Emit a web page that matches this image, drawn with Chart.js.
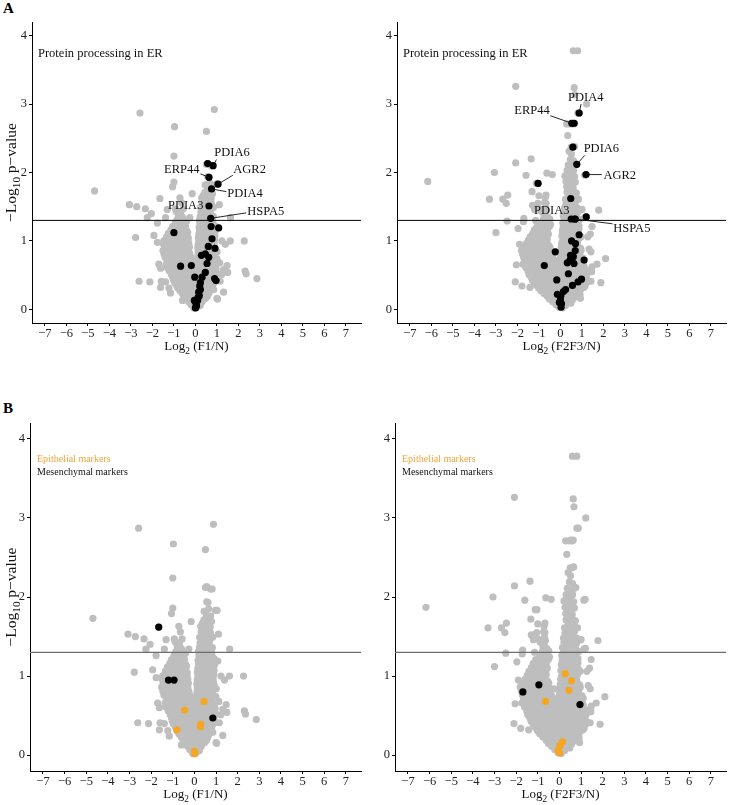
<!DOCTYPE html>
<html><head><meta charset="utf-8">
<script src="https://cdn.jsdelivr.net/npm/chart.js@4"></script>
<style>
html,body{margin:0;padding:0;background:#fff;}
#wrap{position:relative;width:730px;height:805px;overflow:hidden;background:#fff;}
.p{position:absolute;}
.lab{position:absolute;font:bold 15px "Liberation Serif",serif;color:#000;line-height:15px;}
</style></head><body>
<div id="wrap">
 <div class="lab" style="left:3px;top:1px">A</div>
 <div class="lab" style="left:3px;top:401px">B</div>
 <div class="p" style="left:0;top:0;width:365px;height:355px"><canvas id="cA1"></canvas></div>
 <div class="p" style="left:365px;top:0;width:365px;height:355px"><canvas id="cA2"></canvas></div>
 <div class="p" style="left:0;top:395px;width:365px;height:410px"><canvas id="cB1"></canvas></div>
 <div class="p" style="left:365px;top:395px;width:365px;height:410px"><canvas id="cB2"></canvas></div>
</div>
<script>
// ---------------- DATA ----------------
const xTicks = [-7,-6,-5,-4,-3,-2,-1,0,1,2,3,4,5,6,7];
const yTicks = [0,1,2,3,4];
const threshold = 1.3;

// all other proteins, F1 vs N : scattered points
const grayF1Outer = [[-2.58,2.87],[0.88,2.92],[-0.97,2.67],[0.51,2.60],[-1.0,2.24],[0.51,2.12],[0.74,2.10],[0.57,1.94],[-1.0,1.86],[-1.06,1.79],[0.45,1.82],[0.66,1.85],[0.97,1.83],[-4.69,1.73],[-0.15,1.69],[-0.72,1.63],[-3.07,1.53],[-2.73,1.50],[-2.33,1.47],[-2.05,1.40],[-2.24,1.34],[-1.39,1.34],[-1.77,1.26],[-1.31,1.46],[-0.93,1.47],[-0.65,1.56],[-0.57,1.47],[-0.69,1.42],[-0.26,1.34],[1.11,1.53],[1.63,1.34],[0.38,1.67],[0.79,1.69],[-2.78,1.05],[-1.93,1.08],[-1.77,0.98],[-1.47,1.0],[1.23,1.0],[1.62,1.0],[1.39,0.95],[2.27,1.0],[1.13,0.68],[1.47,0.64],[1.31,0.58],[1.5,0.54],[2.31,0.56],[2.36,0.52],[2.86,0.45],[-2.62,0.41],[-2.12,0.40],[-1.59,0.41],[-1.39,0.40],[-1.62,0.32],[-1.23,0.31],[-1.16,0.24],[0.85,0.29],[1.31,0.25],[1.0,0.16],[-1.7,0.66],[-1.62,0.60],[1.15,0.41],[1.22,0.51],[1.03,0.15],[-0.6,0.13]];
// all other proteins, F1 vs N : dense cloud
const grayF1Cloud = [
[-0.08,0.02],[0.06,0.03],[0.16,0.05],
[-0.21,0.07],[-0.04,0.06],[0.11,0.08],[0.23,0.06],
[-0.31,0.11],[-0.17,0.10],[0.01,0.12],[0.14,0.10],[0.31,0.11],
[-0.42,0.15],[-0.26,0.14],[-0.11,0.16],[0.06,0.13],[0.19,0.15],[0.36,0.14],[0.47,0.16],
[-0.52,0.19],[-0.36,0.18],[-0.19,0.2],[-0.04,0.18],[0.11,0.19],[0.27,0.2],[0.41,0.18],[0.56,0.19],
[-0.61,0.23],[-0.47,0.22],[-0.29,0.24],[-0.14,0.21],[0.02,0.23],[0.16,0.22],[0.31,0.24],[0.46,0.21],[0.62,0.23],
[-0.72,0.27],[-0.56,0.26],[-0.41,0.28],[-0.24,0.25],[-0.09,0.27],[0.06,0.26],[0.21,0.28],[0.36,0.25],[0.52,0.27],[0.66,0.26],
[-0.81,0.31],[-0.66,0.3],[-0.49,0.32],[-0.34,0.29],[-0.19,0.31],[-0.04,0.3],[0.11,0.32],[0.26,0.29],[0.41,0.31],[0.56,0.3],[0.71,0.32],
[-0.87,0.35],[-0.71,0.34],[-0.54,0.36],[-0.39,0.33],[-0.24,0.35],[-0.09,0.34],[0.06,0.36],[0.21,0.33],[0.36,0.35],[0.51,0.34],[0.66,0.36],[0.79,0.34],
[-0.96,0.39],[-0.79,0.38],[-0.64,0.4],[-0.51,0.37],[-0.34,0.39],[-0.21,0.38],[-0.06,0.4],[0.09,0.37],[0.24,0.39],[0.39,0.38],[0.54,0.4],[0.69,0.37],[0.86,0.39],
[-1.02,0.43],[-0.86,0.42],[-0.69,0.44],[-0.56,0.41],[-0.39,0.43],[-0.26,0.42],[-0.11,0.44],[0.04,0.41],[0.21,0.43],[0.34,0.42],[0.49,0.44],[0.66,0.41],[0.81,0.43],[0.94,0.42],
[-1.06,0.47],[-0.91,0.46],[-0.74,0.48],[-0.61,0.45],[-0.44,0.47],[-0.31,0.46],[-0.14,0.48],[0.01,0.45],[0.16,0.47],[0.29,0.46],[0.46,0.48],[0.59,0.45],[0.76,0.47],[0.89,0.46],
[-1.12,0.51],[-0.96,0.5],[-0.79,0.52],[-0.66,0.49],[-0.49,0.51],[-0.36,0.5],[-0.19,0.52],[-0.06,0.49],[0.11,0.51],[0.24,0.5],[0.41,0.52],[0.54,0.49],[0.71,0.51],[0.84,0.5],[1.01,0.52],
[-1.21,0.56],[-1.04,0.55],[-0.91,0.57],[-0.74,0.54],[-0.61,0.56],[-0.44,0.55],[-0.31,0.57],[-0.14,0.54],[0.01,0.56],[0.16,0.55],[0.29,0.57],[0.46,0.54],[0.61,0.56],[0.74,0.55],[0.91,0.57],
[-1.31,0.61],[-1.14,0.6],[-1.01,0.62],[-0.84,0.59],[-0.71,0.61],[-0.54,0.6],[-0.41,0.62],[-0.24,0.59],[-0.11,0.61],[0.06,0.6],[0.19,0.62],[0.36,0.59],[0.49,0.61],[0.66,0.6],[0.79,0.62],[0.96,0.59],
[-1.36,0.66],[-1.19,0.65],[-1.06,0.67],[-0.89,0.64],[-0.76,0.66],[-0.59,0.65],[-0.46,0.67],[-0.29,0.64],[-0.16,0.66],[0.06,0.65],[0.21,0.67],[0.34,0.64],[0.51,0.66],[0.64,0.65],[0.81,0.67],[0.94,0.64],
[-1.29,0.71],[-1.16,0.7],[-0.99,0.72],[-0.86,0.69],[-0.69,0.71],[-0.56,0.7],[-0.39,0.72],[-0.26,0.69],[-0.11,0.71],[0.09,0.7],[0.21,0.72],[0.38,0.69],[0.51,0.71],[0.68,0.7],[0.81,0.72],
[-1.41,0.76],[-1.24,0.75],[-1.11,0.77],[-0.94,0.74],[-0.81,0.76],[-0.64,0.75],[-0.51,0.77],[-0.34,0.74],[-0.21,0.76],[0.11,0.75],[0.24,0.77],[0.41,0.74],[0.54,0.76],[0.71,0.75],[0.84,0.77],[0.99,0.74],
[-1.46,0.81],[-1.29,0.8],[-1.16,0.82],[-0.99,0.79],[-0.86,0.81],[-0.69,0.8],[-0.56,0.82],[-0.39,0.79],[-0.26,0.81],[0.12,0.8],[0.26,0.82],[0.43,0.79],[0.56,0.81],[0.73,0.8],[0.86,0.82],
[-1.51,0.86],[-1.34,0.85],[-1.21,0.87],[-1.04,0.84],[-0.91,0.86],[-0.74,0.85],[-0.61,0.87],[-0.44,0.84],[-0.31,0.86],[0.13,0.85],[0.26,0.87],[0.43,0.84],[0.56,0.86],[0.73,0.85],[0.86,0.87],[1.01,0.84],
[-1.44,0.91],[-1.31,0.9],[-1.14,0.92],[-1.01,0.89],[-0.84,0.91],[-0.71,0.9],[-0.54,0.92],[-0.41,0.89],[-0.28,0.91],[0.11,0.9],[0.28,0.92],[0.41,0.89],[0.58,0.91],[0.71,0.9],[0.88,0.92],
[-1.49,0.96],[-1.36,0.95],[-1.19,0.97],[-1.06,0.94],[-0.89,0.96],[-0.76,0.95],[-0.59,0.97],[-0.46,0.94],[-0.31,0.96],[0.13,0.95],[0.26,0.97],[0.43,0.94],[0.56,0.96],[0.73,0.95],[0.86,0.97],
[-1.41,1.01],[-1.24,1.0],[-1.11,1.02],[-0.94,0.99],[-0.81,1.01],[-0.64,1.0],[-0.51,1.02],[-0.34,0.99],[0.16,1.0],[0.29,1.02],[0.46,0.99],[0.59,1.01],[0.76,1.0],[0.89,1.02],
[-1.34,1.06],[-1.21,1.05],[-1.04,1.07],[-0.91,1.04],[-0.74,1.06],[-0.61,1.05],[-0.44,1.07],[-0.33,1.04],[0.14,1.05],[0.31,1.07],[0.44,1.04],[0.61,1.06],[0.74,1.05],[0.91,1.07],
[-1.26,1.11],[-1.09,1.1],[-0.96,1.12],[-0.79,1.09],[-0.66,1.11],[-0.49,1.1],[-0.36,1.12],[0.16,1.1],[0.29,1.12],[0.46,1.09],[0.59,1.11],[0.76,1.1],[0.89,1.12],
[-1.14,1.16],[-1.01,1.15],[-0.84,1.17],[-0.71,1.14],[-0.54,1.16],[-0.41,1.15],[0.19,1.16],[0.32,1.14],[0.49,1.17],[0.62,1.15],[0.79,1.16],[0.92,1.14],
[-1.06,1.21],[-0.89,1.2],[-0.76,1.22],[-0.59,1.19],[-0.46,1.21],[0.17,1.2],[0.34,1.22],[0.47,1.19],[0.64,1.21],[0.77,1.2],[0.91,1.22],
[-0.94,1.26],[-0.81,1.25],[-0.64,1.27],[-0.51,1.24],[0.21,1.26],[0.34,1.25],[0.51,1.27],[0.64,1.24],[0.81,1.26],
[-0.86,1.31],[-0.69,1.3],[-0.56,1.32],[-0.41,1.29],[0.19,1.31],[0.36,1.3],[0.49,1.32],[0.66,1.29],[0.79,1.31],
[-0.79,1.37],[-0.61,1.35],[0.23,1.36],[0.36,1.38],[0.53,1.35],[0.66,1.37],[0.83,1.36],
[-0.89,1.43],[0.26,1.42],[0.39,1.44],[0.56,1.41],[0.69,1.43],
[0.24,1.49],[0.41,1.48],[0.54,1.5],[0.71,1.47],[0.84,1.49],
[0.31,1.56],[0.44,1.54],[0.61,1.57],[0.74,1.55],
[0.29,1.63],[0.46,1.61],[0.59,1.64],[0.73,1.62],
[0.44,1.71],[0.61,1.69],[0.56,1.77]];

// all other proteins, F2F3 vs N : scattered points
const grayF2F3Outer = [[0.6,3.78],[0.8,3.78],[-2.08,3.26],[0.64,3.24],[0.67,3.14],[1.22,3.0],[0.81,2.87],[0.29,2.71],[0.47,2.71],[0.6,2.71],[0.34,2.54],[0.5,2.37],[0.66,2.38],[0.4,2.31],[-2.08,2.14],[-1.36,2.20],[-1.6,1.96],[-3.07,2.0],[-0.63,1.99],[-0.38,1.97],[-6.17,1.87],[-1.12,1.84],[1.13,1.96],[-1.32,1.72],[-3.3,1.61],[-2.68,1.61],[-2.52,1.55],[-2.45,1.67],[-2.48,1.29],[-3.0,1.12],[1.78,1.45],[1.47,1.21],[-1.0,1.66],[-1.05,1.55],[-1.3,1.52],[-1.0,1.47],[-1.2,1.46],[-0.67,1.67],[-0.67,1.55],[-0.65,1.45],[-1.7,1.33],[-1.72,1.28],[-1.15,1.30],[-1.97,1.18],[-1.9,0.95],[-2.05,0.65],[-2.1,0.40],[-1.79,0.34],[-1.42,0.32],[1.33,0.88],[1.42,0.84],[1.7,0.66],[2.1,0.74],[1.88,0.39],[1.47,0.62],[1.45,0.55],[1.42,0.41],[1.39,1.10],[1.27,1.06],[1.0,1.46],[1.13,1.34],[0.93,0.16],[0.78,0.22],[0.48,0.09]];
// all other proteins, F2F3 vs N : dense cloud
const grayF2F3Cloud = [
[-0.06,0.03],[0.09,0.02],
[-0.21,0.07],[-0.06,0.06],[0.11,0.08],[0.24,0.06],
[-0.36,0.11],[-0.19,0.1],[-0.04,0.12],[0.11,0.1],[0.26,0.11],[0.41,0.1],
[-0.51,0.15],[-0.34,0.14],[-0.21,0.16],[-0.04,0.13],[0.09,0.15],[0.26,0.14],[0.39,0.16],[0.56,0.14],
[-0.61,0.19],[-0.44,0.18],[-0.31,0.2],[-0.14,0.17],[0.01,0.19],[0.16,0.18],[0.29,0.2],[0.46,0.17],[0.59,0.19],[0.76,0.18],
[-0.76,0.23],[-0.59,0.22],[-0.46,0.24],[-0.29,0.21],[-0.16,0.23],[0.01,0.22],[0.14,0.24],[0.31,0.21],[0.44,0.23],[0.61,0.22],[0.74,0.24],[0.91,0.22],
[-0.91,0.27],[-0.74,0.26],[-0.61,0.28],[-0.44,0.25],[-0.31,0.27],[-0.14,0.26],[-0.01,0.28],[0.16,0.25],[0.29,0.27],[0.46,0.26],[0.59,0.28],[0.76,0.25],[0.89,0.27],
[-1.01,0.31],[-0.84,0.3],[-0.71,0.32],[-0.54,0.29],[-0.41,0.31],[-0.24,0.3],[-0.11,0.32],[0.06,0.29],[0.19,0.31],[0.36,0.3],[0.49,0.32],[0.66,0.29],[0.79,0.31],[0.96,0.3],[1.09,0.32],
[-1.11,0.35],[-0.94,0.34],[-0.81,0.36],[-0.64,0.33],[-0.51,0.35],[-0.34,0.34],[-0.21,0.36],[-0.04,0.33],[0.11,0.35],[0.24,0.34],[0.41,0.36],[0.54,0.33],[0.71,0.35],[0.84,0.34],[1.01,0.36],[1.14,0.34],
[-1.21,0.39],[-1.04,0.38],[-0.91,0.4],[-0.74,0.37],[-0.61,0.39],[-0.44,0.38],[-0.31,0.4],[-0.14,0.37],[0.01,0.39],[0.14,0.38],[0.31,0.4],[0.44,0.37],[0.61,0.39],[0.74,0.38],[0.91,0.4],[1.04,0.37],[1.21,0.39],
[-1.31,0.43],[-1.14,0.42],[-1.01,0.44],[-0.84,0.41],[-0.71,0.43],[-0.54,0.42],[-0.41,0.44],[-0.24,0.41],[-0.11,0.43],[0.06,0.42],[0.19,0.44],[0.36,0.41],[0.49,0.43],[0.66,0.42],[0.79,0.44],[0.96,0.41],[1.09,0.43],[1.26,0.42],
[-1.36,0.47],[-1.19,0.46],[-1.06,0.48],[-0.89,0.45],[-0.76,0.47],[-0.59,0.46],[-0.46,0.48],[-0.29,0.45],[-0.16,0.47],[0.01,0.46],[0.14,0.48],[0.31,0.45],[0.44,0.47],[0.61,0.46],[0.74,0.48],[0.91,0.45],[1.04,0.47],[1.19,0.46],
[-1.46,0.51],[-1.29,0.5],[-1.16,0.52],[-0.99,0.49],[-0.86,0.51],[-0.69,0.5],[-0.56,0.52],[-0.39,0.49],[-0.26,0.51],[-0.09,0.5],[0.04,0.52],[0.21,0.49],[0.34,0.51],[0.51,0.5],[0.64,0.52],[0.81,0.49],[0.94,0.51],[1.11,0.5],[1.24,0.52],
[-1.51,0.56],[-1.34,0.55],[-1.21,0.57],[-1.04,0.54],[-0.91,0.56],[-0.74,0.55],[-0.61,0.57],[-0.44,0.54],[-0.31,0.56],[-0.14,0.55],[0.01,0.57],[0.14,0.54],[0.31,0.56],[0.44,0.55],[0.61,0.57],[0.74,0.54],[0.91,0.56],[1.04,0.55],[1.21,0.57],
[-1.61,0.61],[-1.44,0.6],[-1.31,0.62],[-1.14,0.59],[-1.01,0.61],[-0.84,0.6],[-0.71,0.62],[-0.54,0.59],[-0.41,0.61],[-0.24,0.6],[-0.11,0.62],[0.06,0.59],[0.19,0.61],[0.36,0.6],[0.49,0.62],[0.66,0.59],[0.79,0.61],[0.96,0.6],[1.09,0.62],
[-1.74,0.66],[-1.61,0.65],[-1.44,0.67],[-1.31,0.64],[-1.14,0.66],[-1.01,0.65],[-0.84,0.67],[-0.71,0.64],[-0.54,0.66],[-0.41,0.65],[-0.24,0.67],[-0.11,0.64],[0.06,0.66],[0.19,0.65],[0.36,0.67],[0.49,0.64],[0.66,0.66],[0.79,0.65],[0.96,0.67],[1.09,0.64],
[-1.66,0.71],[-1.49,0.7],[-1.36,0.72],[-1.19,0.69],[-1.06,0.71],[-0.89,0.7],[-0.76,0.72],[-0.59,0.69],[-0.46,0.71],[-0.31,0.7],[-0.09,0.72],[0.06,0.69],[0.21,0.71],[0.34,0.7],[0.51,0.72],[0.64,0.69],[0.81,0.71],[0.94,0.7],
[-1.71,0.76],[-1.54,0.75],[-1.41,0.77],[-1.24,0.74],[-1.11,0.76],[-0.94,0.75],[-0.81,0.77],[-0.64,0.74],[-0.51,0.76],[-0.36,0.75],[0.01,0.77],[0.14,0.74],[0.31,0.76],[0.44,0.75],[0.61,0.77],[0.74,0.74],[0.91,0.76],[1.04,0.75],
[-1.76,0.81],[-1.59,0.8],[-1.46,0.82],[-1.29,0.79],[-1.16,0.81],[-0.99,0.8],[-0.86,0.82],[-0.69,0.79],[-0.56,0.81],[-0.41,0.8],[0.01,0.82],[0.16,0.79],[0.29,0.81],[0.46,0.8],[0.59,0.82],[0.76,0.79],[0.89,0.81],
[-1.81,0.86],[-1.64,0.85],[-1.51,0.87],[-1.34,0.84],[-1.21,0.86],[-1.04,0.85],[-0.91,0.87],[-0.74,0.84],[-0.61,0.86],[-0.46,0.85],[0.06,0.87],[0.19,0.84],[0.36,0.86],[0.49,0.85],[0.66,0.87],[0.79,0.84],[0.96,0.86],
[-1.69,0.91],[-1.56,0.9],[-1.39,0.92],[-1.26,0.89],[-1.09,0.91],[-0.96,0.9],[-0.79,0.92],[-0.66,0.89],[-0.49,0.91],[0.04,0.9],[0.21,0.92],[0.34,0.89],[0.51,0.91],[0.64,0.9],[0.81,0.92],[0.94,0.89],
[-1.59,0.96],[-1.46,0.95],[-1.29,0.97],[-1.16,0.94],[-0.99,0.96],[-0.86,0.95],[-0.69,0.97],[-0.56,0.94],[0.06,0.96],[0.19,0.95],[0.36,0.97],[0.49,0.94],[0.66,0.96],[0.79,0.95],
[-1.49,1.01],[-1.36,1.0],[-1.19,1.02],[-1.06,0.99],[-0.89,1.01],[-0.76,1.0],[-0.61,1.02],[0.09,0.99],[0.22,1.01],[0.39,1.0],[0.52,1.02],[0.69,0.99],[0.82,1.01],
[-1.41,1.06],[-1.24,1.05],[-1.11,1.07],[-0.94,1.04],[-0.81,1.06],[-0.64,1.05],[0.07,1.07],[0.24,1.04],[0.37,1.06],[0.54,1.05],[0.67,1.07],[0.84,1.04],[0.96,1.06],
[-1.29,1.11],[-1.16,1.1],[-0.99,1.12],[-0.86,1.09],[-0.69,1.11],[-0.56,1.1],[0.11,1.12],[0.24,1.09],[0.41,1.11],[0.54,1.1],[0.71,1.12],[0.84,1.09],
[-1.21,1.16],[-1.04,1.15],[-0.91,1.17],[-0.74,1.14],[-0.61,1.16],[0.09,1.15],[0.26,1.17],[0.39,1.14],[0.56,1.16],[0.69,1.15],[0.86,1.17],
[-1.09,1.21],[-0.96,1.2],[-0.79,1.22],[-0.66,1.19],[-0.51,1.21],[0.13,1.2],[0.26,1.22],[0.43,1.19],[0.56,1.21],[0.73,1.2],[0.86,1.22],
[-0.91,1.26],[-0.74,1.25],[-0.61,1.27],[-0.46,1.24],[0.11,1.26],[0.28,1.25],[0.41,1.27],[0.58,1.24],[0.71,1.26],
[-0.79,1.31],[-0.66,1.3],[-0.49,1.32],[0.16,1.29],[0.29,1.31],[0.46,1.3],[0.59,1.32],[0.76,1.29],[0.89,1.31],
[-0.76,1.37],[-0.59,1.35],[0.14,1.36],[0.31,1.38],[0.44,1.35],[0.61,1.37],[0.74,1.36],
[-0.89,1.43],[-0.71,1.41],[0.21,1.42],[0.34,1.44],[0.51,1.41],[0.64,1.43],[0.81,1.42],
[-0.69,1.49],[0.19,1.48],[0.36,1.5],[0.49,1.47],[0.66,1.49],[0.79,1.48],
[-0.73,1.56],[0.26,1.54],[0.39,1.57],[0.56,1.55],[0.69,1.56],
[-0.71,1.63],[0.24,1.61],[0.41,1.64],[0.54,1.62],[0.71,1.63],[0.84,1.61],
[0.31,1.71],[0.44,1.69],[0.61,1.72],[0.74,1.7],
[0.29,1.79],[0.46,1.77],[0.59,1.78],
[0.26,1.87],[0.39,1.85],[0.56,1.87],[0.69,1.86],
[0.21,1.95],[0.36,1.93],[0.49,1.95],[0.66,1.94],
[0.31,2.03],[0.44,2.01],[0.61,2.03],
[0.36,2.11],[0.54,2.09],[0.69,2.11],
[0.46,2.19],[0.61,2.17],[0.51,2.27]];

// Protein processing in ER (KEGG) : labelled genes
const erGenes    = ['PDIA6','ERP44','AGR2','PDIA4','PDIA3','HSPA5'];
const erGeneF1   = [[0.82,2.10],[0.63,1.93],[1.05,1.83],[0.75,1.76],[0.63,1.51],[0.71,1.33]];
const erGeneF2F3 = [[0.76,2.12],[0.53,2.72],[1.19,1.97],[0.87,2.87],[0.50,1.32],[0.69,1.32]];
// Protein processing in ER : other member proteins
const erOtherF1 = [[0.57,2.13],[0.73,1.21],[1.08,1.19],[-1.0,1.12],[0.77,1.03],[0.6,0.92],[0.91,0.89],[0.46,0.81],[0.28,0.79],[0.62,0.76],[-0.69,0.63],[-0.19,0.64],[0.54,0.67],[0.46,0.54],[-0.03,0.47],[0.89,0.45],[0.96,0.42],[0.31,0.47],[0.23,0.39],[0.2,0.34],[0.23,0.29],[0.15,0.25],[0.18,0.2],[0.12,0.17],[0.1,0.13],[-0.05,0.13],[0.02,0.09],[0.05,0.05],[0.0,0.02]];
const erOtherF2F3 = [[0.64,2.72],[0.58,2.37],[-1.04,1.84],[0.48,1.62],[0.67,1.32],[1.2,1.35],[0.87,1.09],[0.52,1.0],[0.7,0.96],[-0.24,0.84],[0.69,0.86],[0.47,0.79],[0.6,0.77],[0.45,0.72],[0.32,0.68],[0.63,0.67],[1.1,0.72],[-0.75,0.64],[0.37,0.52],[-0.17,0.43],[0.56,0.35],[0.82,0.40],[0.98,0.44],[0.24,0.29],[0.14,0.26],[-0.14,0.22],[0.02,0.20],[0.0,0.14],[-0.05,0.10],[0.05,0.08],[0.03,0.03]];

// EMT markers
const epiF1   = [[0.44,0.68],[-0.45,0.57],[-0.81,0.32],[0.29,0.39],[0.28,0.36],[0.0,0.05],[0.02,0.02]];
const mesF1   = [[-1.65,1.62],[-1.2,0.95],[-0.94,0.95],[0.85,0.47]];
const epiF2F3 = [[0.27,1.03],[0.56,0.94],[0.44,0.82],[-0.64,0.68],[0.14,0.17],[0.02,0.12],[-0.05,0.06],[0.0,0.03]];
const mesF2F3 = [[-1.69,0.80],[-0.95,0.89],[0.95,0.64]];

// ---------------- LAYOUT / STYLE ----------------
// label placement for gene names: [labelX, labelY, align, lineEndX, lineEndY] in data units
const geneLayoutF1 = {
  PDIA6:[0.88,2.29,'left',0.98,2.19], ERP44:[0.19,2.04,'right',0.23,1.98], AGR2:[1.76,2.04,'left',1.74,1.96],
  PDIA4:[1.48,1.69,'left',1.44,1.72], PDIA3:[0.37,1.52,'right',null,null], HSPA5:[2.41,1.43,'left',2.36,1.41]};
const geneLayoutF2F3 = {
  PDIA6:[1.08,2.35,'left',1.13,2.25], ERP44:[-0.5,2.90,'right',-0.47,2.83], AGR2:[2.0,1.96,'left',1.92,1.97],
  PDIA4:[1.18,3.09,'center',0.96,3.0], PDIA3:[-0.4,1.44,'center',null,null], HSPA5:[2.46,1.18,'left',2.42,1.25]};

const FONT = '"Liberation Serif", "Times New Roman", serif';
const GRAY = '#BEBEBE', BLACK = '#000000', ORANGE = '#F5A623';
const R = 3.6;
const pts = a => a.map(p => ({x:p[0], y:p[1]}));
const fmt = v => (v < 0 ? '\u2212' + Math.abs(v) : String(v));

function drawRich(ctx, parts, size, x, y, align){
  let w = 0;
  parts.forEach(p => { ctx.font = (p[1] ? size*0.72 : size) + 'px ' + FONT; w += ctx.measureText(p[0]).width; });
  let cx = align === 'center' ? x - w/2 : x;
  ctx.textAlign = 'left'; ctx.textBaseline = 'alphabetic';
  parts.forEach(p => {
    ctx.font = (p[1] ? size*0.72 : size) + 'px ' + FONT;
    ctx.fillText(p[0], cx, p[1] ? y + size*0.28 : y);
    cx += ctx.measureText(p[0]).width;
  });
}

const deco = {
  id: 'deco',
  afterDatasetsDraw(chart, args, o){
    const {ctx, chartArea: a, scales: {x, y}} = chart;
    ctx.save();
    // significance threshold
    const ty = y.getPixelForValue(threshold);
    ctx.strokeStyle = o.thrColor; ctx.lineWidth = o.thrWidth;
    ctx.beginPath(); ctx.moveTo(a.left, ty); ctx.lineTo(a.right, ty); ctx.stroke();
    // gene labels
    if (o.geneLayout){
      ctx.fillStyle = '#111'; ctx.strokeStyle = '#111'; ctx.lineWidth = 0.9;
      ctx.font = '12.5px ' + FONT; ctx.textBaseline = 'middle';
      erGenes.forEach((g, i) => {
        const L = o.geneLayout[g], P = o.genePts[i];
        if (L[3] !== null){
          ctx.beginPath();
          ctx.moveTo(x.getPixelForValue(P[0]), y.getPixelForValue(P[1]));
          ctx.lineTo(x.getPixelForValue(L[3]), y.getPixelForValue(L[4]));
          ctx.stroke();
        }
        ctx.textAlign = L[2];
        ctx.fillText(g, x.getPixelForValue(L[0]), y.getPixelForValue(L[1]));
      });
    }
    ctx.restore();
  },
  afterDraw(chart, args, o){
    const {ctx, chartArea: a} = chart;
    ctx.save();
    ctx.fillStyle = '#111';
    drawRich(ctx, o.xTitle, 13, (a.left + a.right)/2, a.bottom + 27, 'center');
    if (o.yTitle){
      ctx.save();
      ctx.translate(16, (a.top + a.bottom)/2);
      ctx.rotate(-Math.PI/2);
      drawRich(ctx, [['\u2212Log',0],['10',1],[' p\u2212value',0]], 15.5, 0, 0, 'center');
      ctx.restore();
    }
    (o.notes || []).forEach(n => {
      ctx.fillStyle = n.color; ctx.font = n.size + 'px ' + FONT;
      ctx.textAlign = 'left'; ctx.textBaseline = 'alphabetic';
      ctx.fillText(n.text, a.left + n.dx, a.top + n.dy);
    });
    ctx.restore();
  }
};

function axisCommon(){
  return {
    type: 'linear',
    grid: { display: true, drawOnChartArea: false, drawTicks: true, tickLength: 3, tickColor: '#000', tickWidth: 1 },
    border: { display: true, color: '#000', width: 1 },
    ticks: { color: '#222', font: { family: FONT, size: 12.5, lineHeight: 1 }, autoSkip: false, maxRotation: 0, padding: 1 }
  };
}

function makeChart(id, cfg){
  const xs = axisCommon(), ys = axisCommon();
  xs.min = -7.6; xs.max = 7.7; xs.position = 'bottom';
  xs.afterBuildTicks = s => { s.ticks = xTicks.map(v => ({value: v})); };
  xs.ticks.callback = v => fmt(v);
  xs.afterFit = s => { s.height = cfg.xH; };
  ys.min = -0.2; ys.max = 4.2; ys.position = 'left';
  ys.afterBuildTicks = s => { s.ticks = yTicks.map(v => ({value: v})); };
  ys.ticks.callback = v => fmt(v);
  ys.ticks.padding = 2;
  ys.afterFit = s => { s.width = cfg.yW; };
  const datasets = cfg.highlights.map(h => ({
    data: pts(h.data), backgroundColor: h.color, pointRadius: R, pointBorderWidth: 0, borderWidth: 0, order: 0
  }));
  datasets.push({ data: pts(cfg.gray), backgroundColor: GRAY, pointRadius: R, pointBorderWidth: 0, borderWidth: 0, order: 1 });
  return new Chart(document.getElementById(id), {
    type: 'scatter',
    data: { datasets },
    options: {
      responsive: true, maintainAspectRatio: false, animation: false, events: [],
      layout: { padding: cfg.pad },
      plugins: { legend: { display: false }, tooltip: { enabled: false }, deco: cfg.deco },
      scales: { x: xs, y: ys }
    },
    plugins: [deco]
  });
}

const allF1 = [].concat(grayF1Outer, grayF1Cloud, erGeneF1, erOtherF1, epiF1, mesF1);
const allF2F3 = [].concat(grayF2F3Outer, grayF2F3Cloud, erGeneF2F3, erOtherF2F3, epiF2F3, mesF2F3);
const erNote = [{text: 'Protein processing in ER', dx: 6, dy: 35, color: '#111', size: 12.5}];
const emtNote = [{text: 'Epithelial markers', dx: 7, dy: 39, color: '#EFA63A', size: 10},
                 {text: 'Mesenchymal markers', dx: 7, dy: 52, color: '#111', size: 10}];
const titleF1 = [['Log',0],['2',1],[' (F1/N)',0]];
const titleF2F3 = [['Log',0],['2',1],[' (F2F3/N)',0]];

makeChart('cA1', { gray: allF1, highlights: [{data: erGeneF1.concat(erOtherF1), color: BLACK}],
  pad: {top: 22, right: 3, left: 0, bottom: 0}, yW: 32, xH: 32,
  deco: { thrColor: '#000', thrWidth: 1, geneLayout: geneLayoutF1, genePts: erGeneF1, xTitle: titleF1, yTitle: true, notes: erNote } });
makeChart('cA2', { gray: allF2F3, highlights: [{data: erGeneF2F3.concat(erOtherF2F3), color: BLACK}],
  pad: {top: 22, right: 0, left: 0, bottom: 0}, yW: 32, xH: 32,
  deco: { thrColor: '#000', thrWidth: 1, geneLayout: geneLayoutF2F3, genePts: erGeneF2F3, xTitle: titleF2F3, yTitle: false, notes: erNote } });
makeChart('cB1', { gray: allF1, highlights: [{data: mesF1, color: BLACK}, {data: epiF1, color: ORANGE}],
  pad: {top: 28, right: 3, left: 0, bottom: 0}, yW: 30, xH: 34,
  deco: { thrColor: '#6E6E6E', thrWidth: 1.4, xTitle: titleF1, yTitle: true, notes: emtNote } });
makeChart('cB2', { gray: allF2F3, highlights: [{data: mesF2F3, color: BLACK}, {data: epiF2F3, color: ORANGE}],
  pad: {top: 28, right: 0, left: 0, bottom: 0}, yW: 30, xH: 34,
  deco: { thrColor: '#6E6E6E', thrWidth: 1.4, xTitle: titleF2F3, yTitle: false, notes: emtNote } });
</script>
</body></html>
